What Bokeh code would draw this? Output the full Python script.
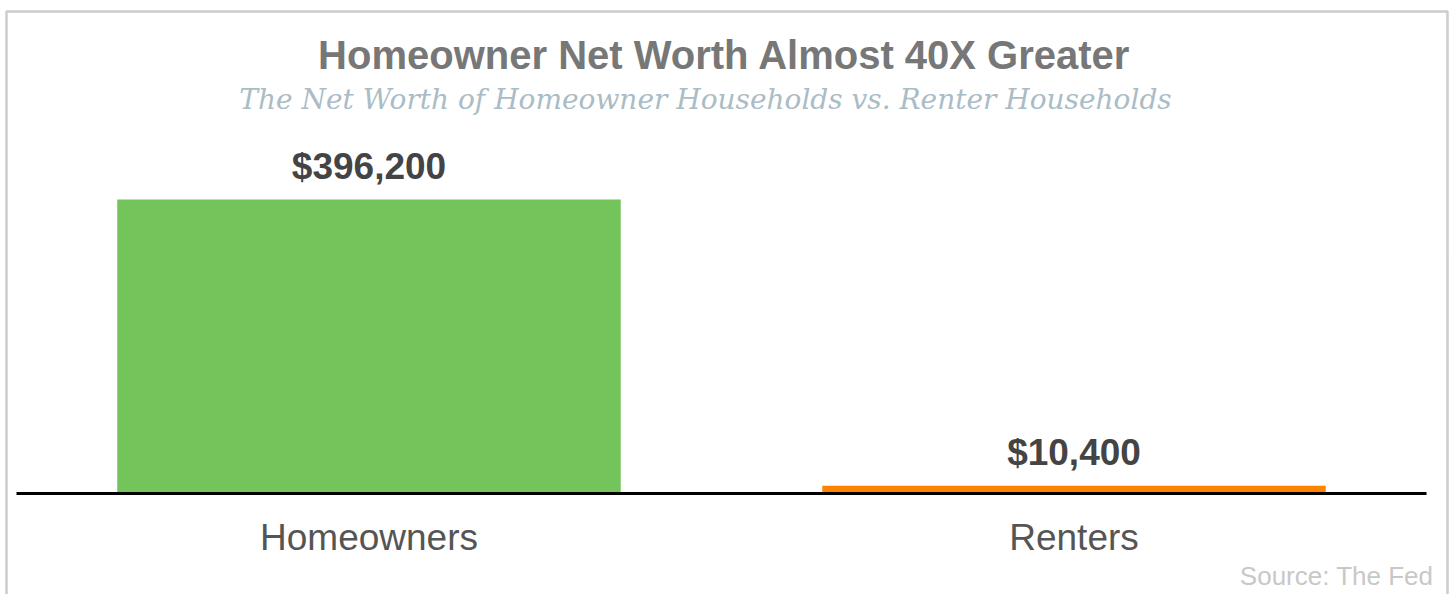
from bokeh.plotting import figure
from bokeh.models import Range1d, ColumnDataSource
from bokeh.core.properties import value
from bokeh.embed import file_html
from bokeh.resources import INLINE

# ---- data ----
categories = ["Homeowners", "Renters"]
net_worth = [396200, 10400]
value_labels = ["$396,200", "$10,400"]
bar_colors = ["#73c45a", "#ff8300"]
title_text = "Homeowner Net Worth Almost 40X Greater"
subtitle_text = "The Net Worth of Homeowner Households vs. Renter Households"
source_text = "Source: The Fed"

# ---- layout (pixel geometry) ----
W, H = 1452, 594
ZERO_PX = 493.0          # canvas y of the value axis
BAR_PX = 294.0           # pixel height of the tallest bar
CAT_PX = 705.0           # pixel spacing of categories
FIRST_PX = 368.5         # canvas x of first category centre

u = max(net_worth) / BAR_PX          # data units per pixel


def dx(px):
    return (px - FIRST_PX) / CAT_PX


def dy(py):
    return (ZERO_PX - py) * u


p = figure(width=W, height=H, output_backend="svg", toolbar_location=None,
           x_range=Range1d(dx(0), dx(W)), y_range=Range1d(dy(H), dy(0)),
           x_axis_location=None, y_axis_location=None,
           min_border=0, min_border_left=0, min_border_right=0,
           min_border_top=0, min_border_bottom=0,
           background_fill_color="white", border_fill_color="white")
p.grid.visible = False
p.outline_line_color = None

# outer card border (left, top, right; bottom runs off the page)
p.line(x=[dx(6), dx(6), dx(1447), dx(1447)],
       y=[dy(H + 20), dy(11), dy(11), dy(H + 20)],
       line_color="#cccccc", line_width=2.5)

xs = list(range(len(categories)))
src = ColumnDataSource(dict(x=xs, top=net_worth, color=bar_colors,
                            label=value_labels, cat=categories))

p.vbar(x="x", top="top", bottom=0, width=503.5 / CAT_PX, color="color",
       line_color=None, source=src)

# axis baseline
p.segment(x0=[-0.5], x1=[len(categories) - 0.5], y0=[0], y1=[0],
          line_color="black", line_width=3)

# value labels
p.text(x="x", y="top", text="label", source=src, text_align="center",
       text_baseline="alphabetic", y_offset=-33,
       text_font=value("Liberation Sans"), text_font_style="bold",
       text_font_size="37px", text_color="#444444")

# category labels
p.text(x="x", y=0, text="cat", source=src, text_align="center",
       text_baseline="alphabetic", y_offset=44, x_offset=0,
       text_font=value("Liberation Sans"), text_font_size="37px",
       text_color="#555555")

# title & subtitle
mid = (len(categories) - 1) / 2
p.text(x=[mid], y=[0], text=[title_text], text_align="center",
       text_baseline="alphabetic", y_offset=-439, x_offset=3,
       text_font=value("Liberation Sans"), text_font_style="bold",
       text_font_size="40px", text_color="#777777")
p.text(x=[mid], y=[0], text=[subtitle_text], text_align="center",
       text_baseline="alphabetic", y_offset=-394, x_offset=-16,
       text_font=value("DejaVu Serif"), text_font_style="italic",
       text_font_size="28px", text_color="#aabcc6")

# source
p.text(x=[len(categories) - 0.5], y=[0], text=[source_text], text_align="right",
       text_baseline="alphabetic", y_offset=82, x_offset=7,
       text_font=value("Liberation Sans"), text_font_size="26px",
       text_color="#c8c8c8")

open("out.html", "w").write(file_html(p, INLINE))
